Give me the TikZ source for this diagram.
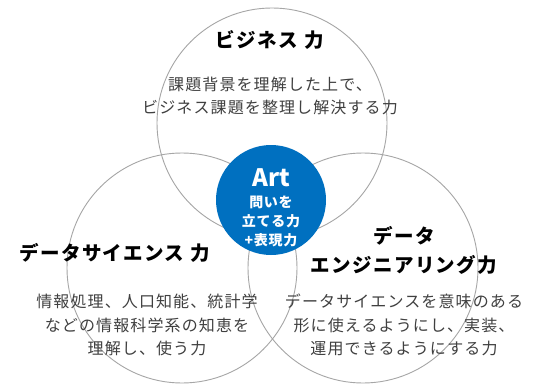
\documentclass[tikz,border=0pt]{standalone}
\usepackage{fontspec}
\setmainfont{Noto Sans CJK JP}
\newfontfamily\spaced[LetterSpace=7]{Noto Sans CJK JP}
\newfontfamily\spacedart[LetterSpace=5]{Noto Sans CJK JP}
\definecolor{artblue}{HTML}{0070C0}
\definecolor{ring}{HTML}{A6A6A6}
\definecolor{bodytxt}{HTML}{404040}
\begin{document}
\begin{tikzpicture}[x=1pt,y=-1pt,
  ringc/.style={draw=ring,line width=0.9pt},
  title/.style={font=\spaced\fontsize{19.5}{29}\selectfont\bfseries,text=black,align=center,inner sep=0},
  bodyt/.style={font=\spaced\fontsize{16}{23.3}\selectfont,text=bodytxt,align=center,inner sep=0},
  artt/.style={text=white,align=center,inner sep=0}]
\useasboundingbox (0,0) rectangle (540,385);
\fill[white] (0,0) rectangle (540,385);
\draw[ringc] (272,123) circle (115);
\draw[ringc] (182,268) circle (115);
\draw[ringc] (363,268) circle (115);
\node[circle,fill=artblue,minimum size=110pt,inner sep=0] (art) at (271,200) {};
\node[artt,font=\fontsize{24}{24}\selectfont\bfseries] (artlabel) at (271,178) {Art};
\node[artt,font=\spacedart\fontsize{14}{19}\selectfont\bfseries] (artsub) at (271,221) {問いを\\立てる力\\+表現力};
\node[title] (biz) at (270,40) {ビジネス\,\,力};
\node[bodyt] (bizb) at (270,96) {課題背景を理解した上で、\\ビジネス課題を整理し解決する力};
\node[title] (ds) at (115,253) {データサイエンス\,\,力};
\node[bodyt] (dsb) at (147,325) {情報処理、人口知能、統計学\\などの情報科学系の知恵を\\理解し、使う力};
\node[title] (de) at (404,250) {データ\\エンジニアリング力};
\node[bodyt] (deb) at (404,325) {データサイエンスを意味のある\\形に使えるようにし、実装、\\運用できるようにする力};
\end{tikzpicture}
\end{document}
